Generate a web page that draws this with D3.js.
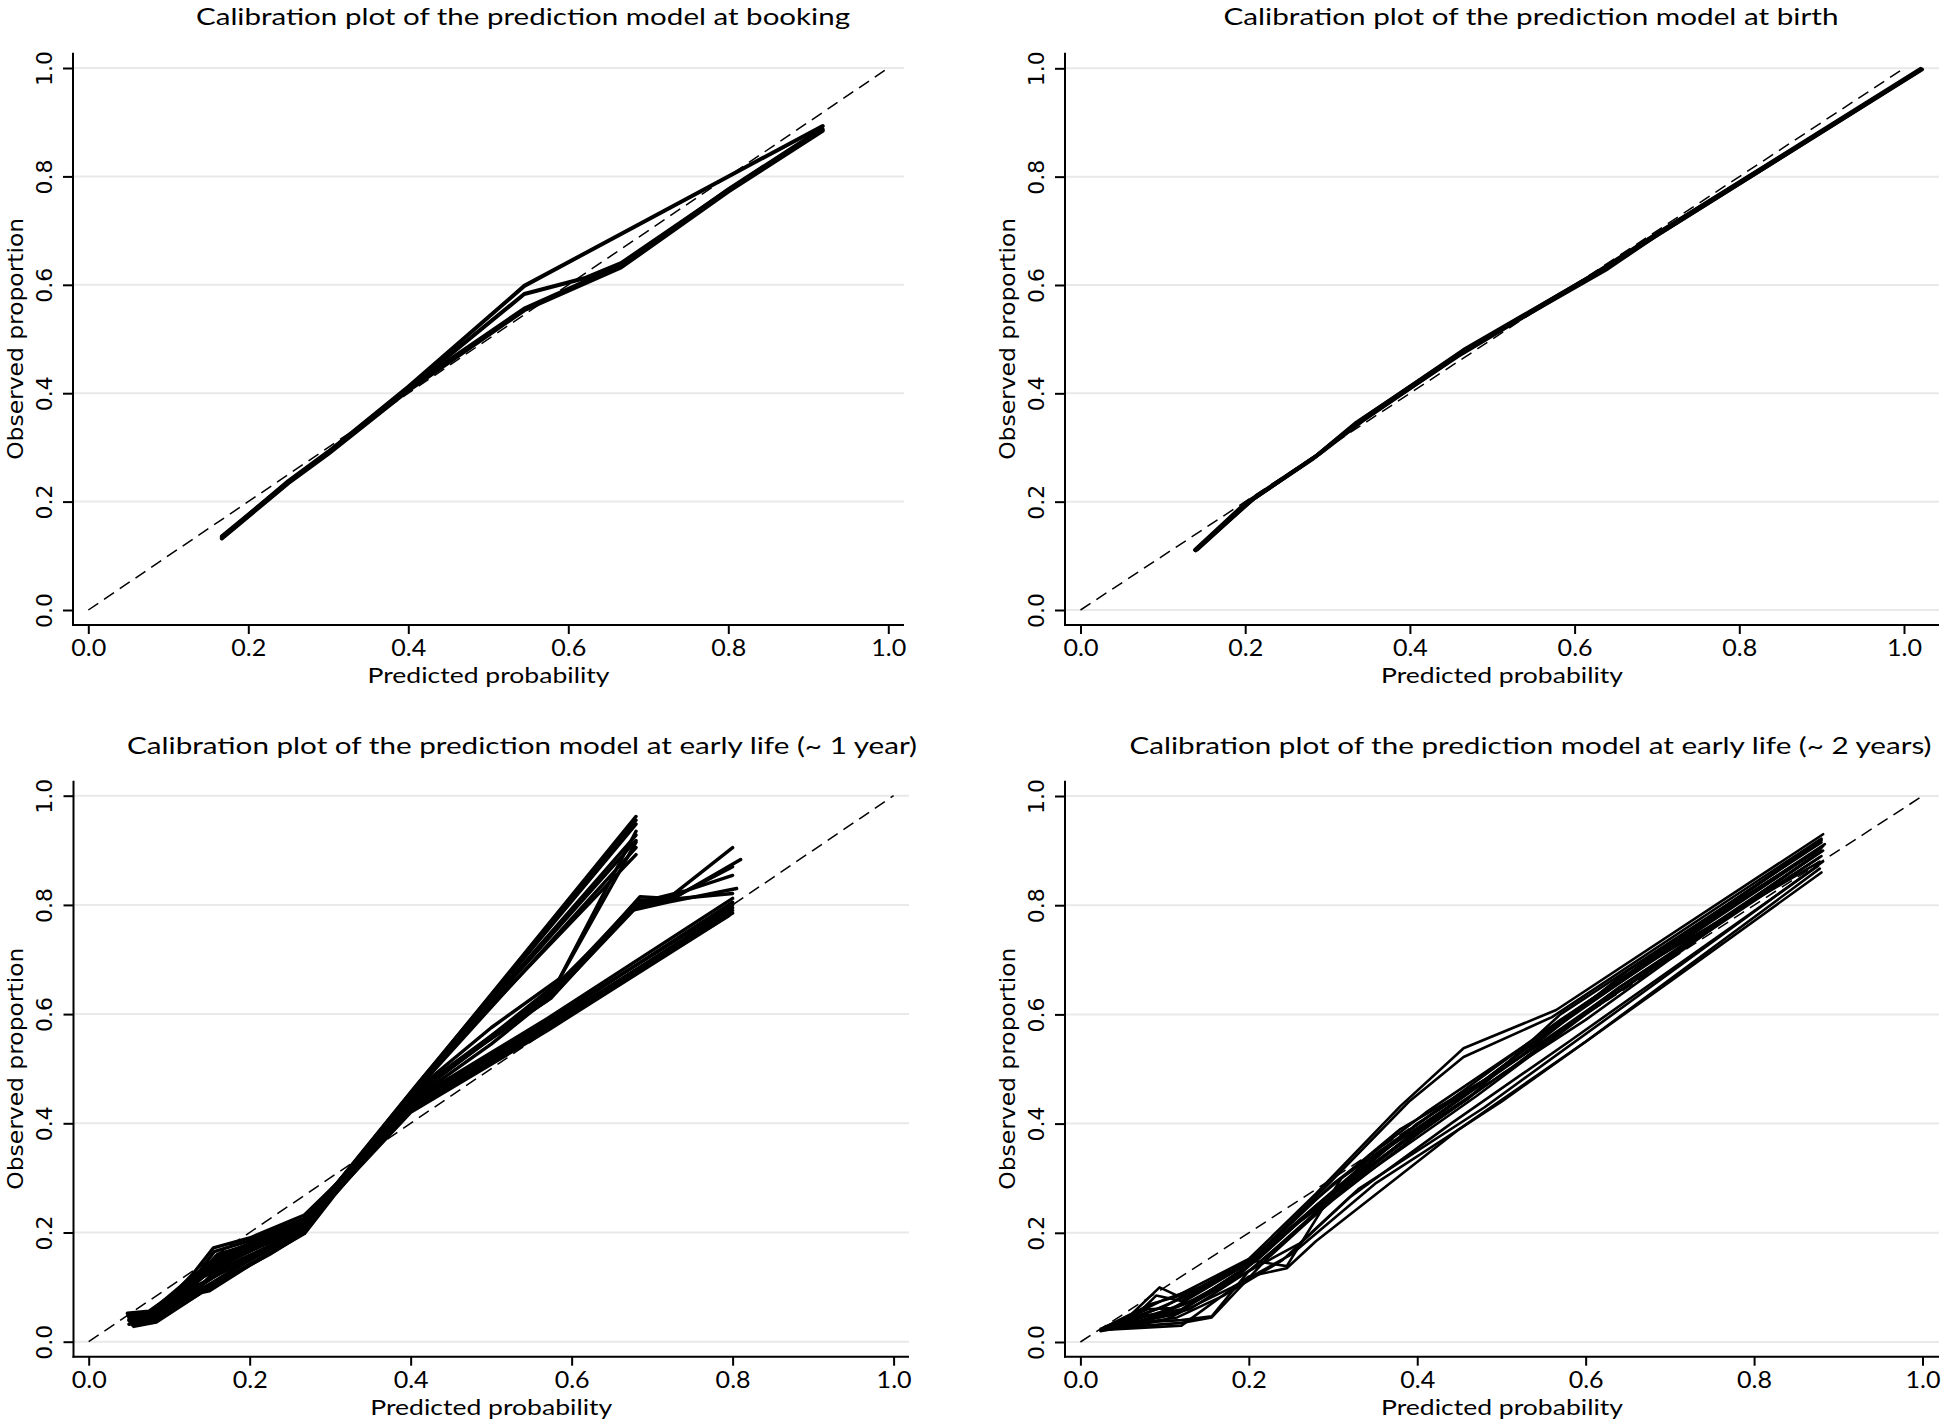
<!DOCTYPE html>
<html><head><meta charset="utf-8">
<script src="https://cdn.jsdelivr.net/npm/d3@7"></script>
<style>body{margin:0;background:#fff} svg{display:block}</style>
</head><body>
<svg id="chart" width="1946" height="1424"></svg>
<script>
// ---------------- DATA ----------------
const xTicks = [0, 0.2, 0.4, 0.6, 0.8, 1.0];
const yTicks = [0, 0.2, 0.4, 0.6, 0.8, 1.0];
const titles = [
  "Calibration plot of the prediction model at booking",
  "Calibration plot of the prediction model at birth",
  "Calibration plot of the prediction model at early life (~ 1 year)",
  "Calibration plot of the prediction model at early life (~ 2 years)"
];
const xLabel = "Predicted probability";
const yLabel = "Observed proportion";
const diagonal = [[0, 0], [1, 1]];

const bookingCurves = [
  [[0.167,0.134],[0.25,0.238],[0.30,0.292],[0.40,0.412],[0.545,0.598],[0.80,0.800],[0.918,0.893]],
  [[0.167,0.136],[0.25,0.236],[0.30,0.290],[0.40,0.408],[0.545,0.583],[0.62,0.612],[0.666,0.640],[0.80,0.775],[0.918,0.887]],
  [[0.167,0.132],[0.25,0.234],[0.30,0.288],[0.40,0.405],[0.545,0.553],[0.666,0.632],[0.80,0.772],[0.918,0.884]],
  [[0.168,0.135],[0.25,0.236],[0.30,0.291],[0.40,0.410],[0.545,0.556],[0.666,0.636],[0.80,0.776],[0.917,0.888]]
];
const birthCurves = [
  [[0.139,0.111],[0.20,0.197],[0.285,0.283],[0.335,0.346],[0.462,0.475],[0.62,0.617],[0.69,0.685],[1.02,0.997]],
  [[0.141,0.113],[0.21,0.205],[0.283,0.280],[0.33,0.338],[0.458,0.468],[0.625,0.620],[0.688,0.680],[1.018,0.995]],
  [[0.140,0.110],[0.205,0.200],[0.287,0.285],[0.34,0.350],[0.465,0.480],[0.63,0.625],[0.695,0.690],[1.02,0.999]],
  [[0.142,0.112],[0.208,0.203],[0.29,0.288],[0.345,0.352],[0.47,0.482],[0.64,0.630],[0.70,0.692],[1.022,0.998]]
];
const year1Curves = [
  [[0.050,0.040],[0.080,0.048],[0.130,0.125],[0.155,0.172],[0.200,0.190],[0.268,0.232],[0.310,0.292],[0.400,0.455],[0.680,0.962]],
  [[0.052,0.035],[0.082,0.044],[0.130,0.112],[0.160,0.160],[0.210,0.182],[0.268,0.218],[0.305,0.282],[0.405,0.462],[0.680,0.948]],
  [[0.050,0.046],[0.078,0.056],[0.135,0.118],[0.150,0.138],[0.200,0.172],[0.270,0.212],[0.310,0.286],[0.410,0.472],[0.680,0.928]],
  [[0.055,0.030],[0.083,0.038],[0.140,0.096],[0.180,0.132],[0.220,0.165],[0.268,0.205],[0.300,0.272],[0.400,0.450],[0.680,0.905]],
  [[0.048,0.052],[0.075,0.056],[0.125,0.108],[0.170,0.150],[0.230,0.186],[0.270,0.222],[0.310,0.292],[0.420,0.492],[0.680,0.892]],
  [[0.051,0.043],[0.081,0.050],[0.133,0.114],[0.158,0.155],[0.205,0.183],[0.269,0.225],[0.307,0.288],[0.405,0.466],[0.680,0.955]],
  [[0.054,0.033],[0.084,0.041],[0.137,0.100],[0.165,0.140],[0.215,0.176],[0.268,0.212],[0.303,0.276],[0.415,0.480],[0.680,0.918]],
  [[0.053,0.042],[0.080,0.050],[0.130,0.104],[0.160,0.140],[0.210,0.176],[0.268,0.214],[0.305,0.280],[0.400,0.452],[0.500,0.560],[0.576,0.640],[0.680,0.935]],
  [[0.051,0.038],[0.079,0.046],[0.128,0.100],[0.150,0.130],[0.205,0.170],[0.270,0.208],[0.308,0.284],[0.410,0.465],[0.500,0.575],[0.585,0.665],[0.680,0.915]],
  [[0.050,0.044],[0.082,0.052],[0.132,0.118],[0.156,0.165],[0.200,0.185],[0.268,0.226],[0.306,0.286],[0.400,0.450],[0.500,0.555],[0.576,0.635],[0.685,0.815],[0.720,0.812],[0.800,0.905]],
  [[0.054,0.034],[0.080,0.042],[0.135,0.098],[0.165,0.128],[0.215,0.168],[0.268,0.206],[0.300,0.270],[0.400,0.445],[0.490,0.545],[0.575,0.630],[0.680,0.800],[0.730,0.815],[0.810,0.883]],
  [[0.049,0.048],[0.077,0.054],[0.128,0.110],[0.158,0.146],[0.205,0.178],[0.270,0.216],[0.310,0.288],[0.400,0.440],[0.500,0.545],[0.580,0.640],[0.680,0.795],[0.720,0.810],[0.800,0.821]],
  [[0.052,0.036],[0.081,0.045],[0.138,0.102],[0.170,0.138],[0.220,0.172],[0.268,0.210],[0.305,0.278],[0.410,0.455],[0.500,0.560],[0.585,0.660],[0.685,0.805],[0.740,0.825],[0.800,0.854]],
  [[0.051,0.041],[0.079,0.049],[0.130,0.106],[0.162,0.142],[0.210,0.176],[0.270,0.214],[0.306,0.280],[0.400,0.448],[0.490,0.548],[0.570,0.625],[0.675,0.790],[0.720,0.805],[0.805,0.830]],
  [[0.050,0.039],[0.080,0.047],[0.131,0.108],[0.160,0.150],[0.208,0.180],[0.269,0.220],[0.307,0.284],[0.405,0.455],[0.495,0.552],[0.578,0.645],[0.682,0.808],[0.725,0.812],[0.800,0.870]],
  [[0.056,0.028],[0.084,0.036],[0.140,0.090],[0.150,0.093],[0.200,0.140],[0.268,0.198],[0.305,0.268],[0.400,0.430],[0.570,0.580],[0.800,0.790]],
  [[0.050,0.032],[0.082,0.040],[0.135,0.094],[0.160,0.110],[0.210,0.150],[0.268,0.200],[0.300,0.262],[0.400,0.425],[0.570,0.575],[0.800,0.785]],
  [[0.053,0.044],[0.080,0.050],[0.132,0.112],[0.165,0.134],[0.215,0.166],[0.270,0.208],[0.308,0.276],[0.400,0.435],[0.570,0.588],[0.800,0.800]],
  [[0.049,0.050],[0.076,0.054],[0.126,0.116],[0.158,0.150],[0.205,0.180],[0.268,0.220],[0.310,0.284],[0.400,0.440],[0.570,0.592],[0.800,0.812]],
  [[0.055,0.030],[0.083,0.038],[0.142,0.092],[0.175,0.120],[0.225,0.160],[0.268,0.200],[0.302,0.266],[0.400,0.420],[0.570,0.570],[0.795,0.780]],
  [[0.052,0.038],[0.081,0.046],[0.136,0.104],[0.168,0.128],[0.218,0.164],[0.269,0.206],[0.304,0.272],[0.400,0.432],[0.570,0.584],[0.800,0.805]],
  [[0.050,0.047],[0.079,0.052],[0.129,0.113],[0.157,0.142],[0.207,0.172],[0.268,0.212],[0.309,0.280],[0.400,0.428],[0.570,0.578],[0.800,0.795]]
];
const year2Curves = [
  [[0.024,0.022],[0.060,0.050],[0.094,0.100],[0.115,0.085],[0.200,0.152],[0.280,0.272],[0.380,0.432],[0.455,0.538],[0.565,0.608],[0.882,0.930]],
  [[0.026,0.025],[0.070,0.055],[0.090,0.085],[0.120,0.075],[0.210,0.160],[0.290,0.282],[0.390,0.440],[0.455,0.522],[0.560,0.595],[0.880,0.922]],
  [[0.024,0.020],[0.070,0.045],[0.120,0.060],[0.200,0.140],[0.280,0.250],[0.360,0.350],[0.455,0.450],[0.565,0.580],[0.880,0.905]],
  [[0.028,0.025],[0.080,0.050],[0.115,0.052],[0.190,0.130],[0.270,0.235],[0.370,0.352],[0.460,0.445],[0.570,0.600],[0.880,0.915]],
  [[0.025,0.023],[0.060,0.035],[0.120,0.040],[0.156,0.047],[0.200,0.130],[0.300,0.260],[0.400,0.380],[0.500,0.490],[0.600,0.590],[0.875,0.895]],
  [[0.030,0.028],[0.100,0.065],[0.200,0.150],[0.245,0.139],[0.310,0.300],[0.420,0.420],[0.560,0.560],[0.880,0.890]],
  [[0.026,0.021],[0.090,0.060],[0.150,0.100],[0.220,0.170],[0.300,0.270],[0.400,0.400],[0.520,0.520],[0.650,0.680],[0.882,0.908]],
  [[0.024,0.024],[0.120,0.035],[0.156,0.045],[0.220,0.150],[0.320,0.290],[0.420,0.410],[0.540,0.550],[0.680,0.700],[0.878,0.880]],
  [[0.027,0.026],[0.085,0.070],[0.130,0.090],[0.200,0.145],[0.250,0.210],[0.340,0.330],[0.450,0.455],[0.570,0.590],[0.884,0.912]],
  [[0.025,0.022],[0.075,0.040],[0.125,0.070],[0.190,0.125],[0.260,0.220],[0.350,0.320],[0.470,0.450],[0.600,0.600],[0.880,0.900]],
  [[0.025,0.024],[0.080,0.060],[0.110,0.062],[0.195,0.140],[0.275,0.255],[0.380,0.390],[0.480,0.480],[0.600,0.620],[0.880,0.918]],
  [[0.026,0.022],[0.095,0.055],[0.140,0.080],[0.210,0.150],[0.290,0.262],[0.390,0.375],[0.510,0.500],[0.640,0.650],[0.878,0.888]],
  [[0.024,0.021],[0.085,0.045],[0.130,0.060],[0.205,0.135],[0.285,0.245],[0.400,0.390],[0.530,0.530],[0.660,0.670],[0.882,0.900]],
  [[0.027,0.023],[0.100,0.078],[0.150,0.105],[0.215,0.165],[0.300,0.290],[0.410,0.420],[0.520,0.535],[0.880,0.920]],
  [[0.029,0.025],[0.115,0.045],[0.170,0.085],[0.240,0.150],[0.320,0.265],[0.440,0.400],[0.580,0.550],[0.876,0.872]],
  [[0.027,0.022],[0.120,0.030],[0.200,0.120],[0.245,0.135],[0.280,0.185],[0.450,0.390],[0.600,0.550],[0.878,0.867]],
  [[0.025,0.020],[0.100,0.040],[0.180,0.100],[0.250,0.160],[0.350,0.290],[0.500,0.440],[0.700,0.660],[0.880,0.860]],
  [[0.028,0.024],[0.110,0.050],[0.200,0.130],[0.260,0.180],[0.330,0.280],[0.480,0.430],[0.650,0.620],[0.882,0.880]]
];

// ---------------- LAYOUT ----------------
const panels = [
  {title: titles[0], curves: bookingCurves, ax: 73, x0: 88.3, x1: 888.3, xEnd: 904, top: 52.7, y1: 68, y0: 610, axY: 625, tx: 523, ty: 24.5, tl: 654, lw: 4.0, grid: [0.2,0.4,0.6,0.8,1.0]},
  {title: titles[1], curves: birthCurves, ax: 1065, x0: 1080.5, x1: 1904, xEnd: 1939, top: 52.7, y1: 68.3, y0: 610, axY: 625, tx: 1531, ty: 24.5, tl: 615, lw: 3.8, grid: [0,0.2,0.4,0.6,0.8,1.0]},
  {title: titles[2], curves: year1Curves, ax: 73.5, x0: 88.7, x1: 893.6, xEnd: 909, top: 780.7, y1: 795.7, y0: 1341.7, axY: 1356.7, tx: 522, ty: 754, tl: 790, lw: 3.4, grid: [0,0.2,0.4,0.6,0.8,1.0]},
  {title: titles[3], curves: year2Curves, ax: 1065, x0: 1080.4, x1: 1922.5, xEnd: 1939, top: 780.7, y1: 796, y0: 1342, axY: 1356.7, tx: 1530.5, ty: 754, tl: 802, lw: 2.6, grid: [0,0.2,0.4,0.6,0.8,1.0]}
];

const titleFont = "Lato, 'Open Sans', sans-serif";
const yFont = "'DejaVu Sans', Verdana, sans-serif";
const svg = d3.select("#chart");
const fmt = d3.format(".1f");

panels.forEach(p => {
  const x = d3.scaleLinear().domain([0, 1]).range([p.x0, p.x1]);
  const y = d3.scaleLinear().domain([0, 1]).range([p.y0, p.y1]);
  const g = svg.append("g");

  // gridlines
  g.selectAll("line.grid").data(p.grid).join("line")
    .attr("x1", p.ax).attr("x2", p.xEnd)
    .attr("y1", d => y(d)).attr("y2", d => y(d))
    .attr("stroke", "#e9e9e9").attr("stroke-width", 2);

  // diagonal reference
  const line = d3.line().x(d => x(d[0])).y(d => y(d[1]));
  g.append("path").attr("d", line(diagonal))
    .attr("fill", "none").attr("stroke", "#000").attr("stroke-width", 1.5)
    .attr("stroke-dasharray", "12,7");

  // curves
  g.selectAll("path.curve").data(p.curves).join("path")
    .attr("class", "curve")
    .attr("d", line)
    .attr("fill", "none").attr("stroke", "#000")
    .attr("stroke-width", p.lw)
    .attr("stroke-linejoin", "round").attr("stroke-linecap", "round");

  // axes
  const xa = g.append("g").attr("transform", `translate(0,${p.axY})`)
    .call(d3.axisBottom(x).tickValues(xTicks).tickFormat(fmt).tickSize(9));
  xa.select(".domain").remove();
  xa.selectAll(".tick line").attr("stroke-width", 2);
  xa.selectAll(".tick text").attr("dy", null).attr("y", 31)
    .attr("font-family", titleFont).attr("font-size", 23).attr("fill", "#000")
    .attr("textLength", 35).attr("lengthAdjust", "spacingAndGlyphs");

  const ya = g.append("g").attr("transform", `translate(${p.ax},0)`)
    .call(d3.axisLeft(y).tickValues(yTicks).tickFormat(fmt).tickSize(10));
  ya.select(".domain").remove();
  ya.selectAll(".tick line").attr("stroke-width", 2);
  ya.selectAll(".tick text").attr("dy", null).attr("x", null)
    .attr("text-anchor", "middle")
    .attr("transform", "translate(-21.5,0) rotate(-90)")
    .attr("font-family", yFont).attr("font-size", 22).attr("fill", "#000");

  // axis lines
  g.append("line").attr("x1", p.ax).attr("x2", p.ax).attr("y1", p.top).attr("y2", p.axY + 1)
    .attr("stroke", "#000").attr("stroke-width", 2);
  g.append("line").attr("x1", p.ax - 1).attr("x2", p.xEnd).attr("y1", p.axY).attr("y2", p.axY)
    .attr("stroke", "#000").attr("stroke-width", 2);

  // titles and labels
  g.append("text").text(p.title)
    .attr("x", p.tx).attr("y", p.ty).attr("text-anchor", "middle")
    .attr("font-family", titleFont).attr("font-size", 24)
    .attr("textLength", p.tl).attr("lengthAdjust", "spacingAndGlyphs");
  g.append("text").text(xLabel)
    .attr("x", (p.ax + p.xEnd) / 2).attr("y", p.axY + 58).attr("text-anchor", "middle")
    .attr("font-family", titleFont).attr("font-size", 22)
    .attr("textLength", 242).attr("lengthAdjust", "spacingAndGlyphs");
  g.append("text").text(yLabel)
    .attr("text-anchor", "middle")
    .attr("transform", `translate(${p.ax - 50.3},${(p.top + p.axY) / 2}) rotate(-90)`)
    .attr("font-family", yFont).attr("font-size", 22)
    .attr("textLength", 242).attr("lengthAdjust", "spacingAndGlyphs");
});
</script>
</body></html>
